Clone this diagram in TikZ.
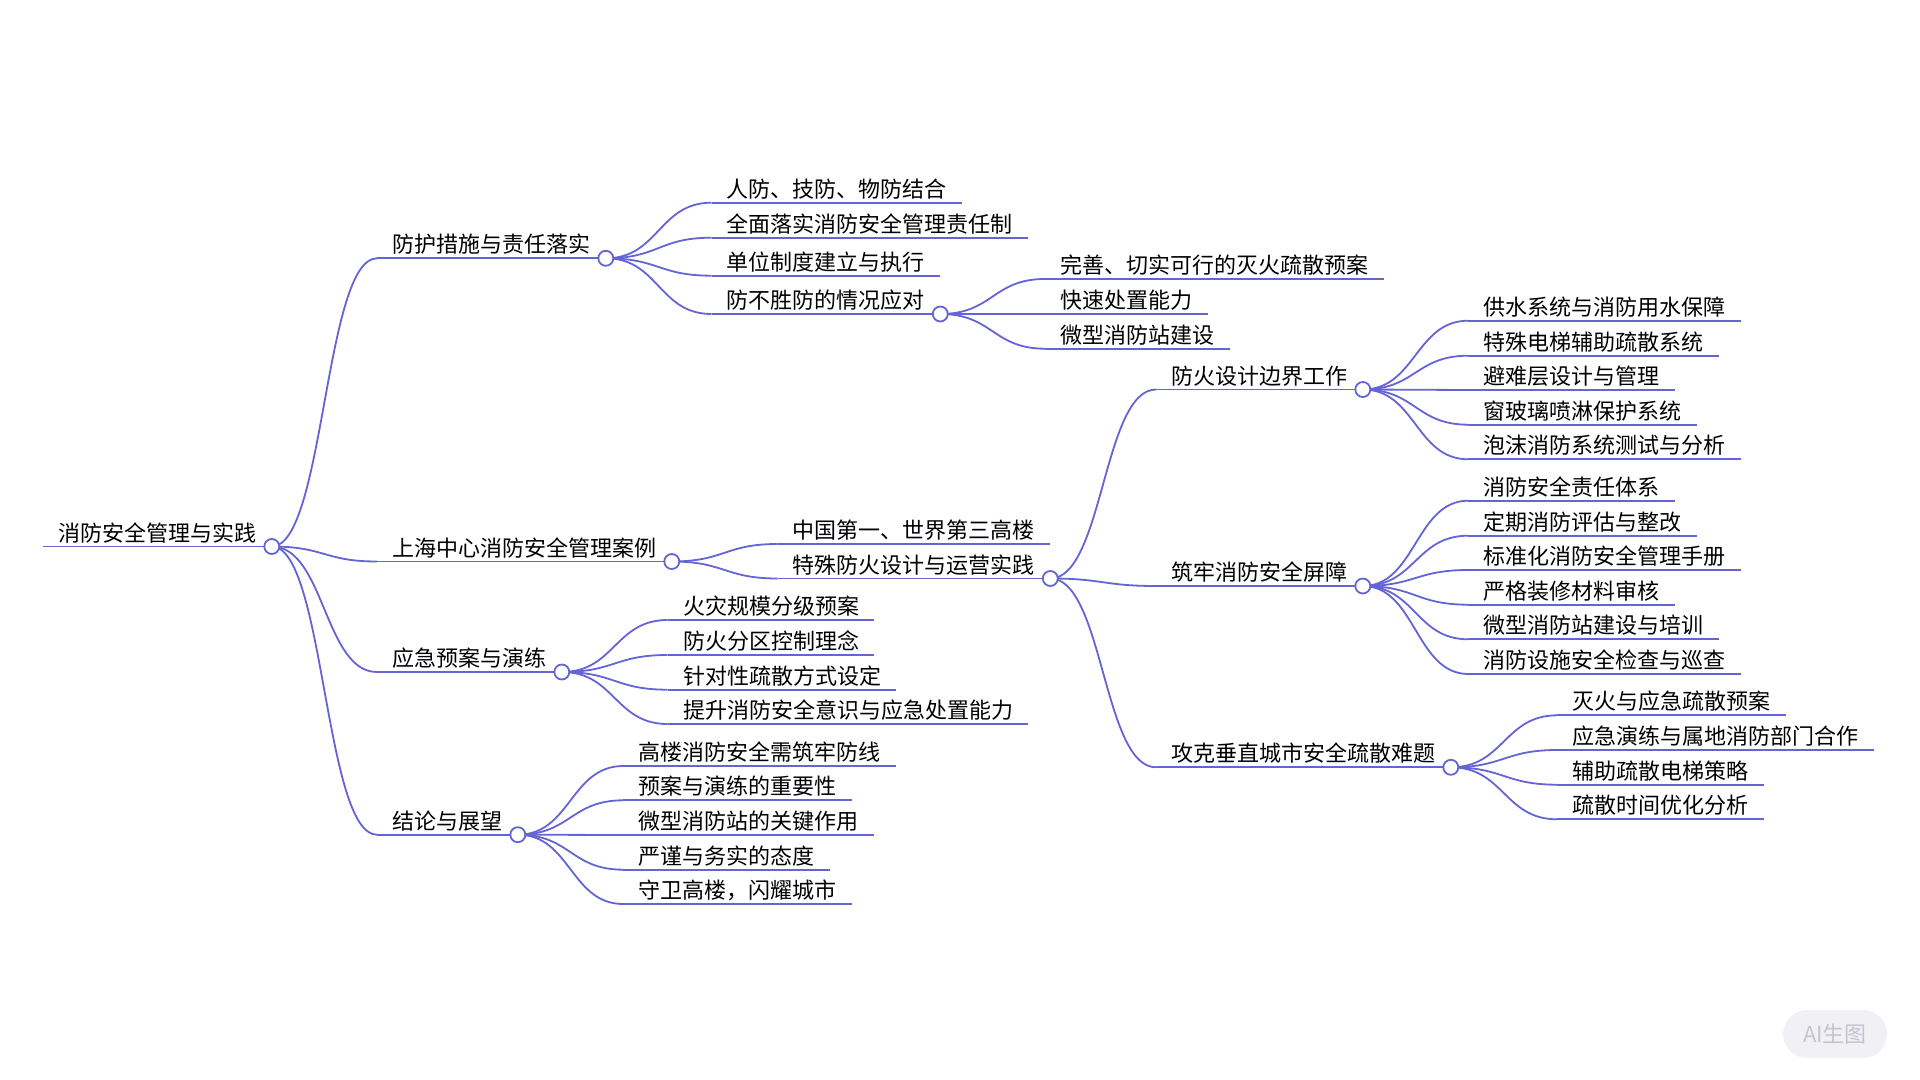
\documentclass[tikz,border=0pt]{standalone}
\usepackage{fontspec}
\setmainfont{Noto Sans CJK SC}
\usetikzlibrary{calc}
\definecolor{linkcol}{RGB}{100,100,212}
\definecolor{wmfill}{RGB}{240,240,245}
\definecolor{wmtext}{RGB}{196,196,206}

\begin{document}
\begin{tikzpicture}[x=0.5pt,y=-0.5pt,
  topic/.style={anchor=south west,inner xsep=7.5pt,inner ysep=0pt,text depth=2.5pt,
    font=\fontsize{11pt}{13pt}\selectfont},
  branch/.style={draw=linkcol,line width=0.9pt},
  link/.style={to path={let \p1=(\tikztostart),\p2=(\tikztotarget) in
    .. controls ({(\x1+\x2)/2},\y1) and ({(\x1+\x2)/2},\y2) .. (\tikztotarget)}},
  dot/.style={circle,draw=linkcol,fill=white,line width=0.9pt,inner sep=0pt,minimum size=7.5pt},
  wmk/.style={fill=wmfill,rounded corners=12pt,minimum width=52pt,minimum height=24pt,
    text=wmtext,font=\fontsize{11pt}{13pt}\selectfont}]
  \useasboundingbox (0,0) rectangle (1920,1080);

  % root and first level
  \node[topic] (root) at (43,546.5) {消防安全管理与实践};
  \node[topic] (a) at (377,258.3) {防护措施与责任落实};
  \node[topic] (b) at (377,561.5) {上海中心消防安全管理案例};
  \node[topic] (c) at (377,672) {应急预案与演练};
  \node[topic] (d) at (377,834.7) {结论与展望};

  % 防护措施与责任落实
  \node[topic] (a1) at (711.5,202.7) {人防、技防、物防结合};
  \node[topic] (a2) at (711.5,237.7) {全面落实消防安全管理责任制};
  \node[topic] (a3) at (711.5,275.7) {单位制度建立与执行};
  \node[topic] (a4) at (711.5,314) {防不胜防的情况应对};
  \node[topic] (a41) at (1045,279) {完善、切实可行的灭火疏散预案};
  \node[topic] (a42) at (1045,314) {快速处置能力};
  \node[topic] (a43) at (1045,348.7) {微型消防站建设};

  % 上海中心消防安全管理案例
  \node[topic] (b1) at (777.5,544) {中国第一、世界第三高楼};
  \node[topic] (b2) at (777.5,578.5) {特殊防火设计与运营实践};
  \node[topic] (b21) at (1156,389.5) {防火设计边界工作};
  \node[topic] (b22) at (1156,586) {筑牢消防安全屏障};
  \node[topic] (b23) at (1156,767.3) {攻克垂直城市安全疏散难题};
  \node[topic] (b211) at (1468.3,320.7) {供水系统与消防用水保障};
  \node[topic] (b212) at (1468.3,355.7) {特殊电梯辅助疏散系统};
  \node[topic] (b213) at (1468.3,390) {避难层设计与管理};
  \node[topic] (b214) at (1468.3,424.7) {窗玻璃喷淋保护系统};
  \node[topic] (b215) at (1468.3,459.3) {泡沫消防系统测试与分析};
  \node[topic] (b221) at (1468.3,500.7) {消防安全责任体系};
  \node[topic] (b222) at (1468.3,535.7) {定期消防评估与整改};
  \node[topic] (b223) at (1468.3,570) {标准化消防安全管理手册};
  \node[topic] (b224) at (1468.3,604.7) {严格装修材料审核};
  \node[topic] (b225) at (1468.3,639.3) {微型消防站建设与培训};
  \node[topic] (b226) at (1468.3,674) {消防设施安全检查与巡查};
  \node[topic] (b231) at (1557.2,715.3) {灭火与应急疏散预案};
  \node[topic] (b232) at (1557.2,750) {应急演练与属地消防部门合作};
  \node[topic] (b233) at (1557.2,784.7) {辅助疏散电梯策略};
  \node[topic] (b234) at (1557.2,819.3) {疏散时间优化分析};

  % 应急预案与演练
  \node[topic] (c1) at (667.6,620) {火灾规模分级预案};
  \node[topic] (c2) at (667.6,655) {防火分区控制理念};
  \node[topic] (c3) at (667.6,689.7) {针对性疏散方式设定};
  \node[topic] (c4) at (667.6,724) {提升消防安全意识与应急处置能力};

  % 结论与展望
  \node[topic] (d1) at (623.3,766) {高楼消防安全需筑牢防线};
  \node[topic] (d2) at (623.3,800.3) {预案与演练的重要性};
  \node[topic] (d3) at (623.3,835) {微型消防站的关键作用};
  \node[topic] (d4) at (623.3,869.7) {严谨与务实的态度};
  \node[topic] (d5) at (623.3,904) {守卫高楼，闪耀城市};

  % underlines
  \foreach \n in {root,a,b,c,d,a1,a2,a3,a4,a41,a42,a43,b1,b2,b21,b22,b23,
      b211,b212,b213,b214,b215,b221,b222,b223,b224,b225,b226,b231,b232,b233,b234,
      c1,c2,c3,c4,d1,d2,d3,d4,d5}
    \draw[branch] (\n.south west) -- (\n.south east);

  \path[branch] (root.south east) edge[link] (a.south west)
                                  edge[link] (b.south west)
                                  edge[link] (c.south west)
                                  edge[link] (d.south west)
                (a.south east) edge[link] (a1.south west)
                               edge[link] (a2.south west)
                               edge[link] (a3.south west)
                               edge[link] (a4.south west)
                (a4.south east) edge[link] (a41.south west)
                                edge[link] (a42.south west)
                                edge[link] (a43.south west)
                (b.south east) edge[link] (b1.south west)
                               edge[link] (b2.south west)
                (b2.south east) edge[link] (b21.south west)
                                edge[link] (b22.south west)
                                edge[link] (b23.south west)
                (b21.south east) edge[link] (b211.south west)
                                 edge[link] (b212.south west)
                                 edge[link] (b213.south west)
                                 edge[link] (b214.south west)
                                 edge[link] (b215.south west)
                (b22.south east) edge[link] (b221.south west)
                                 edge[link] (b222.south west)
                                 edge[link] (b223.south west)
                                 edge[link] (b224.south west)
                                 edge[link] (b225.south west)
                                 edge[link] (b226.south west)
                (b23.south east) edge[link] (b231.south west)
                                 edge[link] (b232.south west)
                                 edge[link] (b233.south west)
                                 edge[link] (b234.south west)
                (c.south east) edge[link] (c1.south west)
                               edge[link] (c2.south west)
                               edge[link] (c3.south west)
                               edge[link] (c4.south west)
                (d.south east) edge[link] (d1.south west)
                               edge[link] (d2.south west)
                               edge[link] (d3.south west)
                               edge[link] (d4.south west)
                               edge[link] (d5.south west);

  % fold circles on top of the links
  \foreach \p in {root,a,a4,b,b2,b21,b22,b23,c,d}
    \node[dot] at (\p.south east) {};

  \node[wmk] (wm) at (1835,1034) {AI生图};
\end{tikzpicture}
\end{document}
